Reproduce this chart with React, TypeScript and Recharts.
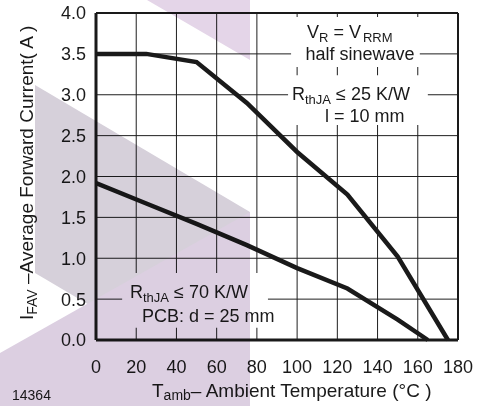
import { CartesianGrid, Line, LineChart, ReferenceArea, ReferenceLine, XAxis, YAxis } from "recharts";

// T_amb ticks (°C) and I_FAV ticks (A)
const tempTicks = [0, 20, 40, 60, 80, 100, 120, 140, 160, 180];
const currentTicks = [0, 0.5, 1, 1.5, 2, 2.5, 3, 3.5, 4];

// RthJA <= 25 K/W, l = 10 mm
const temps25 = [0, 25, 50, 75, 100, 125, 150, 175];
const current25 = [3.5, 3.5, 3.4, 2.9, 2.3, 1.78, 1.02, 0];

// RthJA <= 70 K/W, PCB d = 25 mm
const temps70 = [0, 25, 50, 75, 100, 125, 150, 165];
const current70 = [1.92, 1.67, 1.42, 1.16, 0.88, 0.63, 0.25, 0];

const curve25 = temps25.map((t, k) => ({ t, i: current25[k] }));
const curve70 = temps70.map((t, k) => ({ t, i: current70[k] }));

const font = "'Liberation Sans', Arial, Helvetica, sans-serif";
const ink = "#1a1a1a";

export default function App() {
  return (
    <div style={{ position: "absolute", left: 0, top: 0, width: 477, height: 406, background: "#fff", fontFamily: font }}>
      <LineChart width={477} height={406} margin={{ top: 13, right: 19, left: 0, bottom: 0 }}>
        <CartesianGrid stroke="#1f1f1f" strokeWidth={1} />
        <XAxis
          dataKey="t"
          type="number"
          domain={[0, 180]}
          ticks={tempTicks}
          height={66}
          axisLine={{ stroke: ink, strokeWidth: 3 }}
          tickLine={false}
          tickSize={0}
          tickMargin={20}
          tick={{ fill: ink, fontSize: 18, fontFamily: font }}
          allowDataOverflow
        />
        <YAxis
          type="number"
          domain={[0, 4]}
          ticks={currentTicks}
          width={96}
          axisLine={{ stroke: ink, strokeWidth: 3 }}
          tickLine={false}
          tickSize={0}
          tickMargin={10}
          tickFormatter={(v: number) => v.toFixed(1)}
          tick={{ fill: ink, fontSize: 18, fontFamily: font }}
        />
        {/* white knock-outs behind the annotations */}
        <ReferenceArea x1={97} x2={161} y1={3.34} y2={3.95} fill="#fff" fillOpacity={1} stroke="none" />
        <ReferenceArea x1={95.5} x2={165} y1={2.63} y2={3.24} fill="#fff" fillOpacity={1} stroke="none" />
        <ReferenceArea x1={13} x2={85.5} y1={0.15} y2={0.82} fill="#fff" fillOpacity={1} stroke="none" />
        <ReferenceLine y={4} stroke={ink} strokeWidth={2} />
        <ReferenceLine x={180} stroke={ink} strokeWidth={2} />
        <Line data={curve25} dataKey="i" type="linear" stroke={ink} strokeWidth={4.5} dot={false} isAnimationActive={false} />
        <Line data={curve70} dataKey="i" type="linear" stroke={ink} strokeWidth={4.5} dot={false} isAnimationActive={false} />
      </LineChart>

      <svg width={477} height={406} style={{ position: "absolute", left: 0, top: 0, pointerEvents: "none" }}>
        <g fill={ink} fontFamily={font} fontSize={18}>
          <text x={307} y={38}>
            V<tspan fontSize={13} dy={4}>R</tspan>
            <tspan dy={-4}> = V</tspan>
            <tspan fontSize={13} dy={4} dx={2}>RRM</tspan>
          </text>
          <text x={360} y={60} textAnchor="middle">half sinewave</text>
          <text x={292} y={100}>
            R<tspan fontSize={13} dy={4}>thJA</tspan>
            <tspan dy={-4}>  ≤ 25 K/W</tspan>
          </text>
          <text x={325} y={122}>l = 10 mm</text>
          <text x={130} y={298}>
            R<tspan fontSize={13} dy={4}>thJA</tspan>
            <tspan dy={-4}> ≤ 70 K/W</tspan>
          </text>
          <text x={142} y={322}>PCB: d = 25 mm</text>
          <text x={152} y={397} fontSize={19}>
            T<tspan fontSize={14} dy={3}>amb</tspan>
            <tspan dy={-3}>– Ambient Temperature (°C )</tspan>
          </text>
          <text transform="translate(33,320) rotate(-90)" fontSize={19}>
            I<tspan fontSize={14} dy={4}>FAV</tspan>
            <tspan dy={-4}> –Average Forward Current( A )</tspan>
          </text>
          <text x={12} y={400} fontSize={14}>14364</text>
        </g>
      </svg>

      {/* watermark, multiplied over the drawing */}
      <svg width={477} height={406} style={{ position: "absolute", left: 0, top: 0, pointerEvents: "none", mixBlendMode: "multiply" }}>
        <polygon points="147,0 250,0 250,60" fill="#e4d5e8" />
        <polygon points="35,85 250,212 250,400 35,273" fill="#d6d0da" />
        <polygon points="0,353 250,212 250,406 0,406" fill="#dccfe1" />
      </svg>
    </div>
  );
}
